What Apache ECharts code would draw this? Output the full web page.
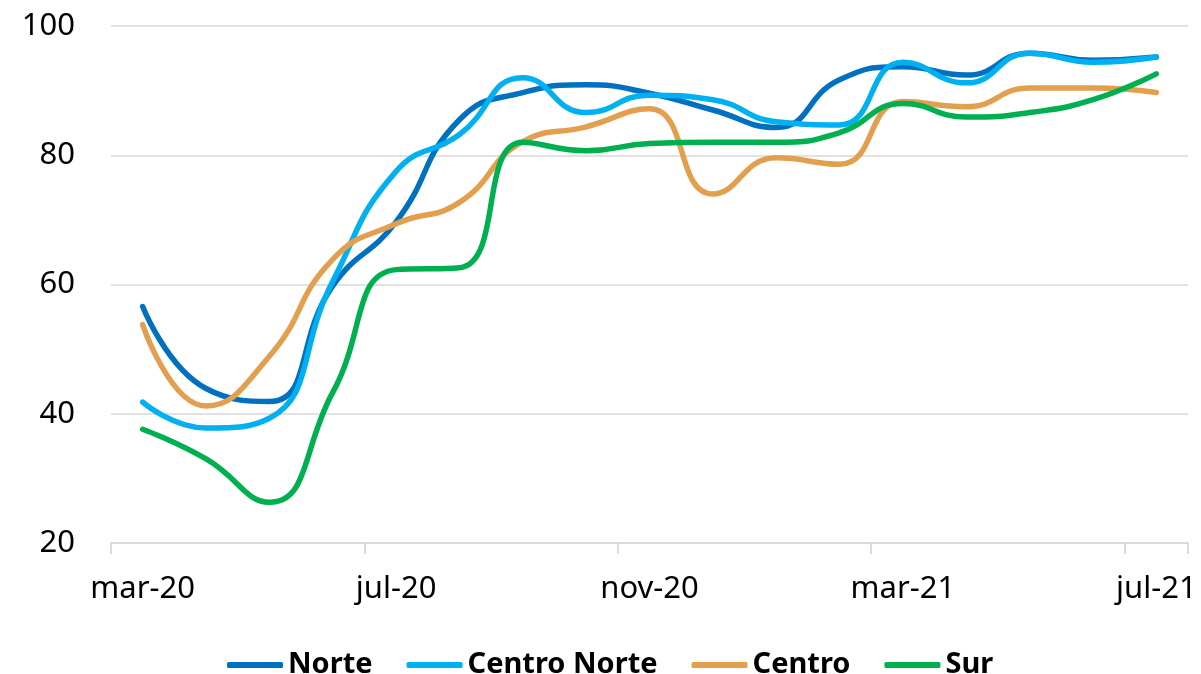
<!DOCTYPE html>
<html>
<head>
<meta charset="utf-8">
<script src="https://cdn.jsdelivr.net/npm/echarts@6/dist/echarts.min.js"></script>
<style>
  html, body { margin: 0; padding: 0; background: #fff; }
  #chart { width: 1201px; height: 674px; }
</style>
</head>
<body>
<div id="chart"></div>
<script>
// meses (un punto por mes)
const months = ['mar-20', 'abr-20', 'may-20', 'jun-20', 'jul-20', 'ago-20', 'sep-20', 'oct-20', 'nov-20',
  'dic-20', 'ene-21', 'feb-21', 'mar-21', 'abr-21', 'may-21', 'jun-21', 'jul-21']

const norte = [56.6, 43.9, 41.9, 59.8, 69.7, 85.5, 89.7, 90.9, 89.6, 87.0, 84.3, 91.7, 93.7, 92.4, 95.8, 94.7, 95.2]
const centroNorte = [41.8, 37.8, 39.3, 60.5, 77.5, 83.2, 92.0, 86.6, 89.3, 88.6, 85.2, 84.7, 94.4, 91.2, 95.8, 94.4, 95.2]
const centro = [53.8, 41.2, 48.9, 63.9, 69.4, 72.7, 82.1, 84.4, 87.2, 74.0, 79.6, 78.6, 88.3, 87.5, 90.4, 90.4, 89.7]
const sur = [37.6, 33.0, 26.3, 43.3, 62.3, 62.6, 82.0, 80.7, 81.8, 82.0, 82.0, 83.5, 88.0, 85.9, 86.6, 88.6, 92.6]

const yTicks = { min: 20, max: 100, step: 20 }

const font = "'Noto Sans', 'DejaVu Sans', sans-serif"

const mkLine = (name, data, color) => ({
  name,
  type: 'line',
  data,
  smooth: 0.5,
  symbol: 'none',
  lineStyle: { color, width: 5.5, cap: 'round' },
  itemStyle: { color },
  emphasis: { disabled: true },
})

const chart = echarts.init(document.getElementById('chart'))
chart.setOption({
  animation: false,
  grid: { left: 111, right: 13, top: 26, bottom: 131 },
  legend: {
    left: 222,
    top: 645,
    icon: 'roundRect',
    itemWidth: 56,
    itemHeight: 6,
    itemGap: 34,
    textStyle: { fontFamily: font, fontSize: 29, fontWeight: 'bold', color: '#000', lineHeight: 30 },
  },
  xAxis: {
    type: 'category',
    data: months,
    boundaryGap: true,
    axisLine: { lineStyle: { color: '#D9D9D9', width: 1.5 } },
    axisTick: { show: true, interval: 3, length: 11, lineStyle: { color: '#D0D0D0', width: 1.5 } },
    axisLabel: { interval: 3, margin: 31, fontFamily: font, fontSize: 31, color: '#000' },
  },
  yAxis: {
    type: 'value',
    min: yTicks.min,
    max: yTicks.max,
    interval: yTicks.step,
    axisLine: { show: false },
    axisTick: { show: false },
    splitLine: { lineStyle: { color: '#D9D9D9', width: 1.5 } },
    axisLabel: { margin: 36, fontFamily: font, fontSize: 31, color: '#000' },
  },
  series: [
    mkLine('Norte', norte, '#0070C0'),
    mkLine('Centro Norte', centroNorte, '#00B0F0'),
    mkLine('Centro', centro, '#E2A04E'),
    mkLine('Sur', sur, '#00B050'),
  ],
})
</script>
</body>
</html>
